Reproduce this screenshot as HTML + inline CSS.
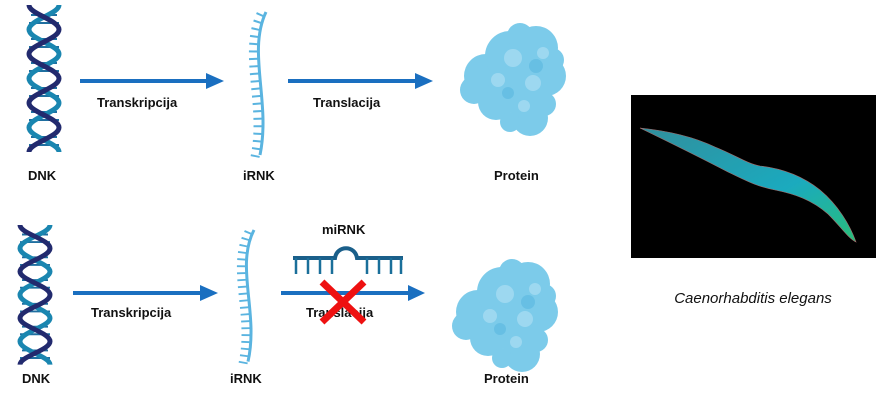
<!DOCTYPE html>
<html><head><meta charset="utf-8"><style>
body{margin:0;background:#fff;width:888px;height:410px;overflow:hidden}
svg{display:block}
.l{font-family:"Liberation Sans",sans-serif;font-weight:bold;font-size:13px;fill:#111}
</style></head><body>
<svg width="888" height="410" viewBox="0 0 888 410">
<defs>
<g id="helix">
  <g stroke="#1f6fa0" stroke-width="2">
    <line x1="4" y1="10" x2="30" y2="10"/><line x1="2" y1="18" x2="32" y2="18"/>
    <line x1="4" y1="34" x2="30" y2="34"/><line x1="2" y1="42" x2="32" y2="42"/>
    <line x1="4" y1="58" x2="30" y2="58"/><line x1="2" y1="66" x2="32" y2="66"/>
    <line x1="4" y1="83" x2="30" y2="83"/><line x1="2" y1="91" x2="32" y2="91"/>
    <line x1="4" y1="107" x2="30" y2="107"/><line x1="2" y1="115" x2="32" y2="115"/>
    <line x1="4" y1="132" x2="30" y2="132"/><line x1="2" y1="140" x2="32" y2="140"/>
  </g>
  <path d="M32,0 C32,9 2,15 2,24.5 C2,34 32,40 32,49 C32,58 2,64 2,73.5 C2,83 32,89 32,98 C32,107 2,113 2,122.5 C2,132 32,138 32,147" fill="none" stroke="#1a86b0" stroke-width="5"/>
  <path d="M2,0 C2,9 32,15 32,24.5 C32,34 2,40 2,49 C2,58 32,64 32,73.5 C32,83 2,89 2,98 C2,107 32,113 32,122.5 C32,132 2,138 2,147" fill="none" stroke="#222a6e" stroke-width="5"/>
</g>
<g id="rna">
  <path d="M21,0 C2,40 26,90 15,143" fill="none" stroke="#5ab4e0" stroke-width="3"/>
  <path d="M16,2 C-3,42 21,92 10,145" fill="none" stroke="#5ab4e0" stroke-width="9" stroke-dasharray="2 5.5"/>
</g>
<g id="prot">
  <g fill="#7ccbea">
    <circle cx="28" cy="58" r="22"/><circle cx="52" cy="38" r="25"/><circle cx="78" cy="30" r="22"/>
    <circle cx="88" cy="58" r="20"/><circle cx="62" cy="70" r="26"/><circle cx="38" cy="84" r="18"/>
    <circle cx="72" cy="100" r="18"/><circle cx="16" cy="72" r="14"/><circle cx="94" cy="42" r="12"/>
    <circle cx="62" cy="18" r="13"/><circle cx="86" cy="86" r="12"/><circle cx="52" cy="104" r="10"/>
  </g>
  <g fill="#a6dcf2" opacity="0.8">
    <circle cx="55" cy="40" r="9"/><circle cx="75" cy="65" r="8"/><circle cx="40" cy="62" r="7"/><circle cx="66" cy="88" r="6"/><circle cx="85" cy="35" r="6"/>
  </g>
  <g fill="#5ab8e0" opacity="0.6">
    <circle cx="78" cy="48" r="7"/><circle cx="50" cy="75" r="6"/>
  </g>
</g>
<linearGradient id="wg" x1="0" y1="0" x2="1" y2="1"><stop offset="0" stop-color="#3aa8b8"/><stop offset="0.6" stop-color="#20c8e0"/><stop offset="1" stop-color="#30e090"/></linearGradient>
</defs>

<!-- Row 1 -->
<use href="#helix" x="27" y="5"/>
<line x1="80" y1="81" x2="208" y2="81" stroke="#1a6fc0" stroke-width="4"/>
<polygon points="206,73 224,81 206,89" fill="#1a6fc0"/>
<text class="l" x="97" y="107">Transkripcija</text>
<use href="#rna" x="245" y="12"/>
<line x1="288" y1="81" x2="416" y2="81" stroke="#1a6fc0" stroke-width="4"/>
<polygon points="415,73 433,81 415,89" fill="#1a6fc0"/>
<text class="l" x="313" y="107">Translacija</text>
<use href="#prot" x="458" y="18"/>
<text class="l" x="28" y="180">DNK</text>
<text class="l" x="243" y="180">iRNK</text>
<text class="l" x="494" y="180">Protein</text>

<!-- Row 2 -->
<g transform="translate(18,225) scale(1,0.95)"><use href="#helix"/></g>
<line x1="73" y1="293" x2="202" y2="293" stroke="#1a6fc0" stroke-width="4"/>
<polygon points="200,285 218,293 200,301" fill="#1a6fc0"/>
<text class="l" x="91" y="317">Transkripcija</text>
<g transform="translate(233,230) scale(1,0.92)"><use href="#rna"/></g>
<text class="l" x="322" y="234">miRNK</text>
<path d="M293,258 H335 C337,245 355,245 357,258 H403" fill="none" stroke="#1a5f8a" stroke-width="4"/>
<g stroke="#1a6f9a" stroke-width="2.5">
<line x1="296" y1="258" x2="296" y2="274"/><line x1="308" y1="258" x2="308" y2="274"/><line x1="320" y1="258" x2="320" y2="274"/><line x1="332" y1="258" x2="332" y2="274"/>
<line x1="367" y1="258" x2="367" y2="274"/><line x1="379" y1="258" x2="379" y2="274"/><line x1="391" y1="258" x2="391" y2="274"/><line x1="401" y1="258" x2="401" y2="274"/>
</g>
<line x1="281" y1="293" x2="410" y2="293" stroke="#1a6fc0" stroke-width="4"/>
<polygon points="408,285 425,293 408,301" fill="#1a6fc0"/>
<text class="l" x="306" y="317">Translacija</text>
<g stroke="#ee1111" stroke-width="7"><line x1="322" y1="282" x2="364" y2="322"/><line x1="364" y1="282" x2="322" y2="322"/></g>
<use href="#prot" x="450" y="254"/>
<text class="l" x="22" y="383">DNK</text>
<text class="l" x="230" y="383">iRNK</text>
<text class="l" x="484" y="383">Protein</text>

<!-- worm image -->
<rect x="631" y="95" width="245" height="163" fill="#000"/>
<path d="M640,128 C660,130 690,135 715,147 C735,155 748,164 760,166 C778,168 800,174 820,190 C838,205 850,225 856,242 C848,238 842,228 828,214 C812,200 795,194 775,190 C755,186 745,180 728,172 C705,160 675,145 640,128 Z" fill="url(#wg)" opacity="0.85" stroke="#c08080" stroke-width="0.6"/>
<text x="753" y="303" text-anchor="middle" font-family="Liberation Sans,sans-serif" font-style="italic" font-size="15" fill="#111">Caenorhabditis elegans</text>
</svg>
</body></html>
